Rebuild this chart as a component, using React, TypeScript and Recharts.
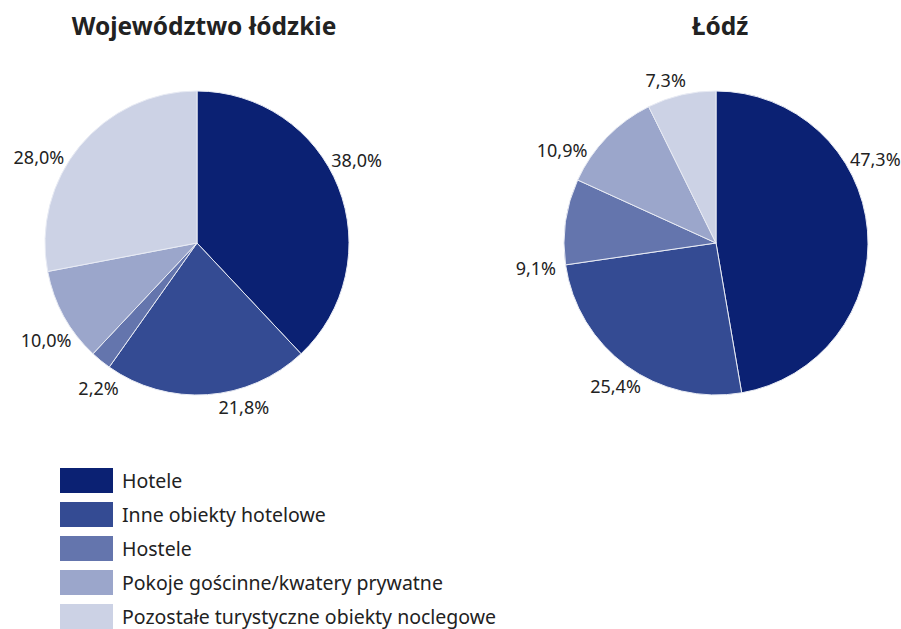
import { Pie, PieChart, Cell, Legend } from "recharts";

const categories = [
  "Hotele",
  "Inne obiekty hotelowe",
  "Hostele",
  "Pokoje gościnne/kwatery prywatne",
  "Pozostałe turystyczne obiekty noclegowe",
];
const voivodeshipShares = [38.0, 21.8, 2.2, 10.0, 28.0];
const lodzShares = [47.3, 25.4, 9.1, 10.9, 7.3];
const titles = ["Województwo łódzkie", "Łódź"];

const colors = ["#0b2173", "#344b93", "#6475ad", "#9ba6cb", "#ccd2e5"];

// label nudges (degrees, ccw) so text sits like the original layout
const leftLabelShift = [6, 12, 5, 4, 11];
const rightLabelShift = [23, 1, 16, 13, 4];

const FONT = "'Noto Sans', 'Open Sans', sans-serif";
const RADIAN = Math.PI / 180;
const R = 152;

const toRows = (values: number[]) =>
  categories.map((name, i) => ({ name, value: values[i] }));

const makeLabel = (shift: number[]) => (props: any) => {
  const { cx, cy, midAngle, outerRadius, index, value } = props;
  const a = (midAngle + shift[index]) * RADIAN;
  // wide text needs more room at the sides than above/below
  const r = outerRadius + 14 + 16 * Math.abs(Math.cos(a));
  const x = cx + r * Math.cos(a);
  const y = cy - r * Math.sin(a);
  return (
    <text
      x={x}
      y={y}
      textAnchor="middle"
      dominantBaseline="central"
      fill="#222"
      fontSize={18}
      fontFamily={FONT}
    >
      {value.toFixed(1).replace(".", ",") + "%"}
    </text>
  );
};

function LegendList() {
  return (
    <div style={{ fontFamily: FONT }}>
      {categories.map((c, i) => (
        <div
          key={c}
          style={{ display: "flex", alignItems: "center", height: 34 }}
        >
          <div
            style={{
              width: 53,
              height: 25,
              background: colors[i],
              marginRight: 9,
            }}
          />
          <span style={{ fontSize: 19.5, color: "#222" }}>{c}</span>
        </div>
      ))}
    </div>
  );
}

export default function App() {
  return (
    <div
      style={{
        position: "absolute",
        left: 0,
        top: 0,
        width: 901,
        height: 629,
        background: "#fff",
        overflow: "hidden",
      }}
    >
      {titles.map((t, i) => (
        <div
          key={t}
          style={{
            position: "absolute",
            top: 9,
            left: i === 0 ? 204 - 200 : 720 - 200,
            width: 400,
            textAlign: "center",
            fontFamily: FONT,
            fontWeight: 700,
            fontSize: 24.5,
            color: "#222",
          }}
        >
          {t}
        </div>
      ))}
      <PieChart width={901} height={629} margin={{ top: 0, right: 0, bottom: 0, left: 0 }}>
        <Pie
          data={toRows(voivodeshipShares)}
          dataKey="value"
          nameKey="name"
          cx={197}
          cy={243}
          outerRadius={R}
          startAngle={90}
          endAngle={-270}
          stroke="#e8ebf4"
          strokeWidth={1}
          labelLine={false}
          label={makeLabel(leftLabelShift)}
          isAnimationActive={false}
        >
          {categories.map((c, i) => (
            <Cell key={c} fill={colors[i]} />
          ))}
        </Pie>
        <Pie
          data={toRows(lodzShares)}
          dataKey="value"
          nameKey="name"
          cx={716}
          cy={243}
          outerRadius={R}
          startAngle={90}
          endAngle={-270}
          stroke="#e8ebf4"
          strokeWidth={1}
          labelLine={false}
          label={makeLabel(rightLabelShift)}
          isAnimationActive={false}
        >
          {categories.map((c, i) => (
            <Cell key={c} fill={colors[i]} />
          ))}
        </Pie>
        <Legend
          content={() => <LegendList />}
          wrapperStyle={{ left: 60, top: 463, width: 500 }}
        />
      </PieChart>
    </div>
  );
}
